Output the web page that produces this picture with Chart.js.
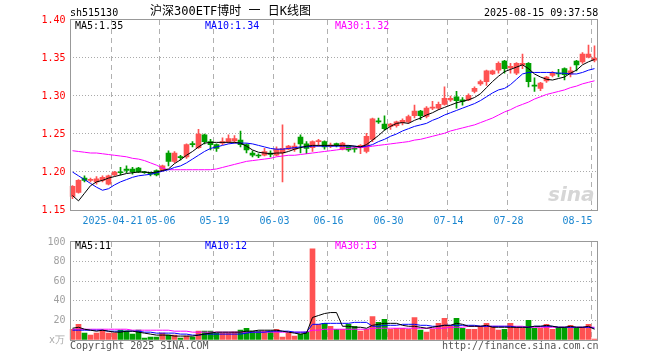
<!DOCTYPE html>
<html>
<head>
<meta charset="utf-8">
<script src="https://cdn.jsdelivr.net/npm/chart.js@4/dist/chart.umd.min.js"></script>
<style>
    body { margin: 0; background: #fff; }
    #wrap { position: relative; width: 660px; height: 360px; background: #fff; overflow: hidden; }
    #wrap canvas { position: absolute; left: 0; }
    .txt { position: absolute; font-family: "DejaVu Sans Mono", monospace; font-size: 10px; line-height: 12px; white-space: pre; }
    .title { font-family: "DejaVu Sans Mono", "Noto Sans CJK SC", monospace; font-size: 12px; line-height: 14px; }
    .mark { position: absolute; font-family: "DejaVu Sans", sans-serif; font-style: italic; font-weight: bold; font-size: 20px; color: #d6d6d6; }
</style>
</head>
<body>
<div id="wrap">
    <canvas id="kline" width="660" height="232" style="top:0"></canvas>
    <canvas id="vol" width="660" height="128" style="top:232px"></canvas>

    <div class="txt" style="left:70px;top:7px">sh515130</div>
    <div class="txt title" style="left:150px;top:4px">沪深300ETF博时 一 日K线图</div>
    <div class="txt" style="left:484px;top:7px">2025-08-15 09:37:58</div>

    <div class="txt" style="left:75px;top:20px;color:#000">MA5:1.35</div>
    <div class="txt" style="left:205px;top:20px;color:#0000ff">MA10:1.34</div>
    <div class="txt" style="left:335px;top:20px;color:#ff00ff">MA30:1.32</div>

    <div class="txt" style="left:75px;top:240px;color:#000">MA5:11</div>
    <div class="txt" style="left:205px;top:240px;color:#0000ff">MA10:12</div>
    <div class="txt" style="left:335px;top:240px;color:#ff00ff">MA30:13</div>

    <div class="txt" style="left:49px;top:334px;color:#aaa">x万</div>
    <div class="txt" style="left:70px;top:340px;color:#555">Copyright 2025 SINA.COM</div>
    <div class="txt" style="left:442px;top:340px;color:#555">http://finance.sina.com.cn</div>
    <div class="mark" style="left:548px;top:182px">sina</div>
</div>

<script>
const dates = ['04-10','04-11','04-14','04-15','04-16','04-17','04-18','04-21','04-22','04-23','04-24','04-25','04-28','04-29','04-30',
    '05-06','05-07','05-08','05-09','05-12','05-13','05-14','05-15','05-16','05-19','05-20','05-21','05-22','05-23','05-26','05-27','05-28','05-29','05-30',
    '06-03','06-04','06-05','06-06','06-09','06-10','06-11','06-12','06-13','06-16','06-17','06-18','06-19','06-20','06-23','06-24','06-25','06-26','06-27','06-30',
    '07-01','07-02','07-03','07-04','07-07','07-08','07-09','07-10','07-11','07-14','07-15','07-16','07-17','07-18','07-21','07-22','07-23','07-24','07-25','07-28','07-29','07-30','07-31',
    '08-01','08-04','08-05','08-06','08-07','08-08','08-11','08-12','08-13','08-14','08-15'];

const xTickLabels = ['2025-04-21','05-06','05-19','06-03','06-16','06-30','07-14','07-28','08-15'];
const priceTicks = [1.15, 1.40, 0.05];   // min, max, step
const volTicks = [0, 100, 20];

const open = [1.168,1.173,1.192,1.189,1.187,1.189,1.184,1.196,1.200,1.204,1.204,1.205,1.200,1.199,1.202,
    1.202,1.225,1.214,1.220,1.220,1.237,1.232,1.249,1.240,1.236,1.238,1.240,1.241,1.242,1.236,1.225,1.222,1.222,1.225,
    1.222,1.225,1.230,1.230,1.246,1.237,1.232,1.240,1.240,1.234,1.237,1.230,1.234,1.231,1.232,1.227,1.243,1.267,1.263,1.260,
    1.261,1.265,1.266,1.274,1.280,1.273,1.284,1.284,1.289,1.295,1.299,1.295,1.295,1.306,1.316,1.319,1.329,1.334,1.346,1.337,1.330,1.341,1.343,
    1.314,1.310,1.320,1.327,1.330,1.336,1.329,1.346,1.345,1.351,1.347];
const high = [1.182,1.190,1.195,1.192,1.194,1.195,1.196,1.201,1.206,1.208,1.206,1.206,1.201,1.200,1.203,
    1.209,1.228,1.227,1.222,1.237,1.240,1.256,1.250,1.243,1.237,1.245,1.249,1.248,1.254,1.237,1.228,1.224,1.231,1.228,
    1.233,1.262,1.235,1.238,1.249,1.240,1.241,1.243,1.241,1.238,1.238,1.239,1.235,1.233,1.236,1.251,1.271,1.271,1.274,1.264,
    1.267,1.270,1.275,1.288,1.281,1.286,1.293,1.292,1.312,1.300,1.306,1.298,1.303,1.312,1.321,1.334,1.334,1.345,1.347,1.343,1.344,1.355,1.344,
    1.324,1.318,1.326,1.332,1.335,1.337,1.338,1.347,1.357,1.367,1.366];
const low = [1.165,1.172,1.187,1.187,1.184,1.187,1.183,1.195,1.196,1.199,1.197,1.199,1.198,1.195,1.195,
    1.201,1.208,1.212,1.216,1.218,1.233,1.231,1.237,1.229,1.227,1.236,1.238,1.238,1.233,1.225,1.220,1.219,1.221,1.220,
    1.221,1.187,1.229,1.227,1.225,1.224,1.227,1.234,1.230,1.232,1.233,1.229,1.227,1.226,1.224,1.225,1.240,1.264,1.255,1.256,
    1.259,1.262,1.264,1.271,1.269,1.271,1.282,1.282,1.288,1.293,1.284,1.288,1.294,1.304,1.314,1.314,1.328,1.330,1.330,1.330,1.328,1.336,1.312,
    1.306,1.307,1.318,1.325,1.325,1.321,1.325,1.333,1.343,1.350,1.345];
const close = [1.181,1.189,1.189,1.190,1.191,1.193,1.195,1.200,1.199,1.202,1.200,1.200,1.199,1.197,1.196,
    1.208,1.214,1.225,1.219,1.236,1.236,1.250,1.240,1.236,1.231,1.240,1.244,1.244,1.236,1.229,1.222,1.221,1.227,1.223,
    1.230,1.231,1.234,1.234,1.237,1.231,1.240,1.241,1.233,1.235,1.236,1.238,1.229,1.230,1.235,1.247,1.270,1.266,1.257,1.263,
    1.266,1.268,1.273,1.280,1.274,1.284,1.285,1.289,1.297,1.297,1.294,1.293,1.301,1.310,1.319,1.333,1.333,1.343,1.336,1.339,1.343,1.343,1.319,
    1.313,1.317,1.325,1.330,1.329,1.328,1.333,1.341,1.355,1.355,1.350];

const ma5 = [1.169,1.162,1.172,1.182,1.187,1.189,1.192,1.194,1.196,1.198,1.199,1.200,1.200,1.199,1.200,
    1.202,1.204,1.211,1.216,1.222,1.227,1.233,1.238,1.239,1.239,1.239,1.239,1.239,1.238,1.234,1.229,1.226,1.225,1.224,
    1.225,1.225,1.227,1.230,1.232,1.234,1.235,1.235,1.235,1.235,1.235,1.235,1.235,1.234,1.233,1.236,1.242,1.248,1.255,1.260,
    1.264,1.265,1.264,1.268,1.271,1.275,1.278,1.282,1.285,1.288,1.291,1.293,1.295,1.298,1.303,1.311,1.319,1.326,1.332,1.335,1.338,1.341,1.336,
    1.329,1.325,1.322,1.321,1.323,1.325,1.330,1.334,1.341,1.345,1.348];
const ma10 = [1.200,1.195,1.190,1.185,1.180,1.176,1.178,1.183,1.187,1.190,1.193,1.195,1.196,1.197,1.199,
    1.201,1.203,1.206,1.208,1.212,1.217,1.222,1.227,1.231,1.233,1.235,1.237,1.238,1.238,1.238,1.237,1.235,1.233,1.231,
    1.230,1.230,1.231,1.232,1.233,1.233,1.234,1.234,1.234,1.234,1.234,1.234,1.234,1.234,1.233,1.234,1.236,1.240,1.243,1.247,
    1.250,1.254,1.257,1.260,1.262,1.264,1.268,1.271,1.275,1.278,1.281,1.284,1.287,1.290,1.294,1.299,1.304,1.308,1.310,1.315,1.322,1.329,1.331,
    1.331,1.331,1.331,1.331,1.330,1.330,1.329,1.329,1.331,1.334,1.336];
const ma30 = [1.228,1.227,1.226,1.225,1.225,1.224,1.223,1.222,1.221,1.220,1.218,1.217,1.215,1.212,1.209,
    1.205,1.203,1.203,1.203,1.203,1.203,1.203,1.203,1.203,1.204,1.206,1.208,1.210,1.212,1.214,1.215,1.216,1.217,1.218,
    1.220,1.221,1.222,1.222,1.223,1.224,1.225,1.226,1.227,1.228,1.229,1.230,1.231,1.232,1.232,1.233,1.234,1.235,1.236,1.237,
    1.238,1.239,1.240,1.242,1.243,1.245,1.247,1.249,1.251,1.254,1.256,1.258,1.260,1.262,1.265,1.268,1.271,1.275,1.279,1.282,1.286,1.289,1.292,
    1.296,1.299,1.302,1.304,1.306,1.308,1.311,1.313,1.316,1.318,1.320];

// volume, 万手
const volume = [11,16,7,5,7,10,7,7,10,9,6,10,2,3,3,
    7,5,5,2,4,3,9,9,9,7,7,7,8,10,12,9,9,9,9,
    11,3,7,4,6,8,93,16,17,14,11,11,16,14,9,11,24,18,21,11,
    12,12,11,23,10,8,11,17,22,14,22,12,11,11,14,17,14,10,11,17,13,12,20,
    12,12,16,11,13,13,15,12,13,16,1];
const volMa5 = [12,13,11,10,9,10,9,8,8,9,9,8,7,6,5,
    5,5,4,4,4,4,5,6,7,8,8,8,8,8,9,9,10,10,10,
    10,9,8,7,6,7,23,25,27,28,28,14,14,13,13,12,15,16,17,17,
    17,15,14,14,13,12,13,14,15,15,17,16,14,14,14,15,13,13,13,13,13,13,13,
    14,14,15,14,13,13,14,13,13,14,11];
const volMa10 = [10,10,10,10,10,10,9,9,9,9,9,9,8,8,7,
    7,7,7,6,6,5,5,6,6,6,6,6,6,6,7,8,8,8,9,
    9,9,9,8,8,8,16,16,17,17,17,17,17,18,18,18,14,14,15,15,
    15,16,16,16,15,15,14,14,15,15,15,15,15,15,14,14,14,14,14,14,13,13,13,
    14,14,14,14,13,13,13,13,13,13,12];
const volMa30 = [11,11,11,11,11,11,11,11,11,11,10,10,10,10,10,
    10,10,9,9,9,8,8,8,8,8,8,8,8,8,8,8,8,8,8,
    8,8,8,8,8,8,10,10,11,11,11,11,11,11,11,11,12,12,12,12,
    12,12,12,12,12,12,12,12,12,13,13,13,14,14,14,14,14,14,14,14,14,14,13,
    13,13,13,13,13,13,13,13,13,13,13];

const RED = '#ff5252';
const GREEN = '#00a000';
const MONO = 'DejaVu Sans Mono';

document.addEventListener('DOMContentLoaded', function() {
    Chart.defaults.font.family = MONO;
    Chart.defaults.font.size = 10;
    klineChart();
    volumeChart();
});

function tickText(i){
    const d = dates[i];
    if (!d) return '';
    return xTickLabels.find(t => t.endsWith(d)) || '';
}

// last label sits inside the box, so pad it on the right
function tickLabel(i){
    const t = tickText(i);
    return (t && i === dates.length - 1) ? t + '     ' : t;
}

function candleColors(){
    return close.map((c, i) => c >= open[i] ? RED : GREEN);
}

// gray box round the plot area
const frame = {
    id: 'frame',
    afterDraw(chart){
        const {ctx, chartArea: a} = chart;
        const x0 = Math.round(a.left), x1 = Math.floor(a.right);
        const y0 = Math.round(a.top), y1 = Math.round(a.bottom);
        ctx.save();
        ctx.strokeStyle = '#999';
        ctx.lineWidth = 1;
        ctx.strokeRect(x0 + 0.5, y0 - 0.5, x1 - x0, y1 - y0 + 1);
        ctx.restore();
    }
};

function xScale(showLabels){
    return {
        offset: true,
        grid: {
            offset: true,
            drawTicks: false,
            color: ctx => tickText(ctx.index) ? '#b0b0b0' : 'rgba(0,0,0,0)'
        },
        border: { display: false, dash: [5, 4] },
        ticks: {
            display: showLabels,
            autoSkip: false,
            maxRotation: 0,
            minRotation: 0,
            padding: 5,
            labelOffset: -2,
            color: '#1a86d0',
            callback: (v, i) => tickLabel(i)
        },
        afterFit: s => { s.height = showLabels ? 22 : 0; }
    };
}

function lineSet(label, data, color){
    return { type: 'line', label: label, data: data, borderColor: color, borderWidth: 1,
             pointRadius: 0, tension: 0, order: 0 };
}

function klineChart(){
    const colors = candleColors();
    const wick = dates.map((d, i) => [low[i], high[i]]);
    const body = dates.map((d, i) => [open[i], close[i]]);
    const [yMin, yMax, yStep] = priceTicks;

    new Chart(document.getElementById('kline'), {
        type: 'bar',
        data: {
            labels: dates,
            datasets: [
                lineSet('MA5', ma5, '#000000'),
                lineSet('MA10', ma10, '#0000ff'),
                lineSet('MA30', ma30, '#ff00ff'),
                { label: 'wick', data: wick, backgroundColor: colors, barThickness: 1, grouped: false, order: 3 },
                { label: 'body', data: body, backgroundColor: colors, barThickness: 5, grouped: false, minBarLength: 1, order: 2 }
            ]
        },
        options: {
            responsive: false,
            animation: false,
            events: [],
            layout: { padding: { top: 20, right: 62.5, left: 0, bottom: 0 } },
            plugins: { legend: { display: false }, tooltip: { enabled: false } },
            scales: {
                x: xScale(true),
                y: {
                    min: yMin, max: yMax,
                    grid: {
                        drawTicks: false,
                        color: ctx => (ctx.tick.value > yMin + 0.001 && ctx.tick.value < yMax - 0.001) ? '#aaaaaa' : 'rgba(0,0,0,0)'
                    },
                    border: { display: false, dash: [1, 2] },
                    ticks: { stepSize: yStep, padding: 4, color: '#ff0000', callback: v => v.toFixed(2) },
                    afterFit: s => { s.width = 69.5; }
                }
            }
        },
        plugins: [frame]
    });
}

function volumeChart(){
    const colors = candleColors();
    const [yMin, yMax, yStep] = volTicks;

    new Chart(document.getElementById('vol'), {
        type: 'bar',
        data: {
            labels: dates,
            datasets: [
                lineSet('MA5', volMa5, '#000000'),
                lineSet('MA10', volMa10, '#0000ff'),
                lineSet('MA30', volMa30, '#ff00ff'),
                { label: 'vol', data: volume, backgroundColor: colors, barThickness: 5, order: 2 }
            ]
        },
        options: {
            responsive: false,
            animation: false,
            events: [],
            layout: { padding: { top: 8, right: 62.5, left: 0, bottom: 20 } },
            plugins: { legend: { display: false }, tooltip: { enabled: false } },
            scales: {
                x: xScale(false),
                y: {
                    min: yMin, max: yMax,
                    grid: {
                        drawTicks: false,
                        color: ctx => (ctx.tick.value > yMin && ctx.tick.value < yMax) ? '#aaaaaa' : 'rgba(0,0,0,0)'
                    },
                    border: { display: false, dash: [1, 2] },
                    ticks: { stepSize: yStep, padding: 4, color: '#a0a0a0', callback: v => v === 0 ? '' : v },
                    afterFit: s => { s.width = 69.5; }
                }
            }
        },
        plugins: [frame]
    });
}
</script>
</body>
</html>
